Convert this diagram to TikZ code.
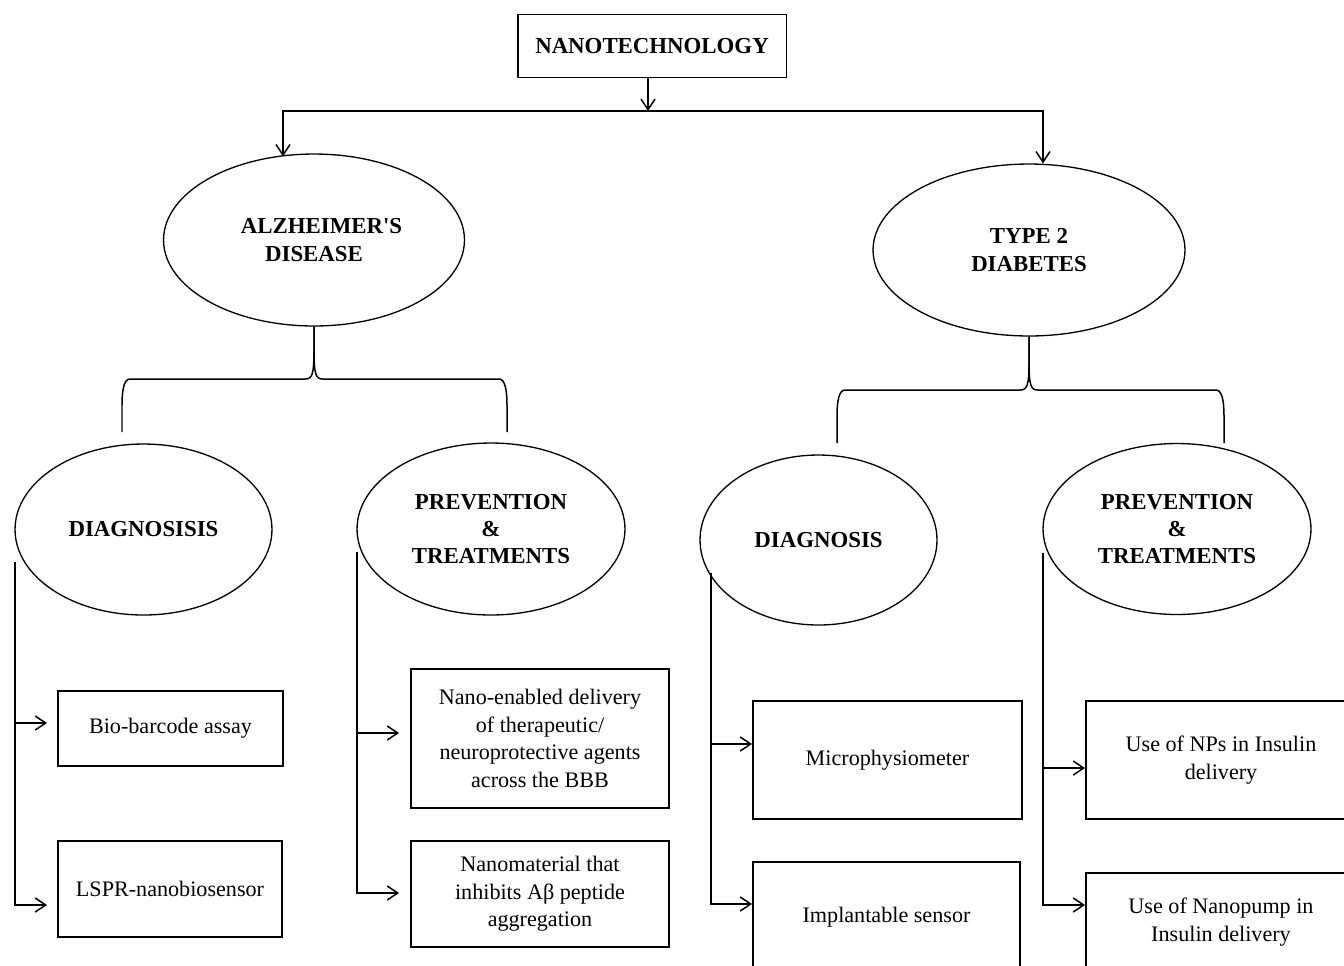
\documentclass[tikz,border=0pt]{standalone}
\usepackage{fontspec}
\setmainfont{Liberation Serif}
\usepackage{tikz}
\usetikzlibrary{
	arrows.meta,
	calc,
	shapes.geometric,
	positioning
}

\begin{document}
\begin{tikzpicture}[x=0.02cm, y=-0.02cm,
		oval/.style={draw, ellipse, line width=0.75pt, inner sep=0pt, align=center,
			font=\fontsize{13}{15.6}\selectfont\bfseries},
		box/.style={draw, rectangle, line width=1.1pt, inner sep=0pt, align=center,
			font=\fontsize{12.6}{15.7}\selectfont},
		arr/.style={line width=0.85pt, -{Straight Barb[length=6pt,width=8pt]}},
		brace/.style={line width=0.85pt}
	]
			\useasboundingbox (0,0) rectangle (1344,965);
			\clip (0,0) rectangle (1344,965);
			% top
			\node[box, minimum width=5.38cm, minimum height=1.26cm,
				font=\fontsize{13}{15.6}\selectfont\bfseries] (nano) at (652,46) {NANOTECHNOLOGY};
			\node[oval, minimum width=6.02cm, minimum height=3.44cm] (alz) at (314,240)
				{\hspace*{0.3cm}ALZHEIMER\textquotesingle S\\DISEASE};
			\node[oval, minimum width=6.24cm, minimum height=3.44cm] (dia) at (1029,250) {TYPE 2\\DIABETES};
			\coordinate (split) at (648,111);
			\draw[arr] (nano.south -| split) -- (split);
			\draw[arr] (split) -| ($(alz.north)+(-31,3)$);
			\draw[arr] (split) -| ($(dia.north)+(14,0)$);
			% second level
			\node[oval, minimum width=5.14cm, minimum height=3.42cm] (dgl) at (143.5,529.5) {DIAGNOSISIS};
			\node[oval, minimum width=5.36cm, minimum height=3.44cm] (ptl) at (491,529) {PREVENTION\\\&\\TREATMENTS};
			\node[oval, minimum width=4.74cm, minimum height=3.40cm] (dgr) at (818.5,540) {DIAGNOSIS};
			\node[oval, minimum width=5.36cm, minimum height=3.42cm] (ptr) at (1177,529) {PREVENTION\\\&\\TREATMENTS};
			\coordinate (alzl) at (122,432);
			\coordinate (alzr) at (507,432);
			\coordinate (dial) at (837,443);
			\coordinate (diar) at (1224,443);
			\draw[brace] (alz.south) -- (314,350) .. controls (314,375) and (312,379) .. (305,379)
				-- (130,379) .. controls (124,379) and (122,390) .. (122,405) -- (alzl);
			\draw[brace] (alz.south) -- (314,350) .. controls (314,375) and (316,379) .. (323,379)
				-- (499,379) .. controls (505,379) and (507,390) .. (507,405) -- (alzr);
			\draw[brace] (dia.south) -- (1029,362) .. controls (1029,386) and (1027,390) .. (1020,390)
				-- (845,390) .. controls (839,390) and (837,401) .. (837,416) -- (dial);
			\draw[brace] (dia.south) -- (1029,362) .. controls (1029,386) and (1031,390) .. (1038,390)
				-- (1216,390) .. controls (1222,390) and (1224,401) .. (1224,416) -- (diar);
			% leaves
			\node[box, minimum width=4.5cm, minimum height=1.5cm] (bio) at (170.5,728.5) {Bio-barcode assay};
			\node[box, minimum width=4.48cm, minimum height=1.92cm] (lspr) at (170,889) {LSPR-nanobiosensor};
			\node[box, minimum width=5.16cm, minimum height=2.78cm] (ned) at (540,738.5)
				{Nano-enabled delivery\\of therapeutic/\\neuroprotective agents\\across the BBB};
			\node[box, minimum width=5.16cm, minimum height=2.12cm] (nmat) at (540,894)
				{Nanomaterial that\\inhibits Aβ peptide\\aggregation};
			\node[box, minimum width=5.38cm, minimum height=2.36cm] (micro) at (887.5,760) {Microphysiometer};
			\node[box, minimum width=5.34cm, minimum height=2.2cm] (impl) at (886.5,917) {Implantable sensor};
			\node[box, minimum width=5.4cm, minimum height=2.36cm] (nps) at (1221,760) {Use of NPs in Insulin\\delivery};
			\node[box, minimum width=5.4cm, minimum height=1.96cm] (pump) at (1221,922) {Use of Nanopump in\\Insulin delivery};
			% branches
			\coordinate (dglfoot) at (15,562);
			\coordinate (ptlfoot) at (357,552);
			\coordinate (dgrfoot) at (711,573);
			\coordinate (ptrfoot) at (1043,553);
			\draw[arr, shorten >=0.2cm] (dglfoot) |- ($(bio.west)+(0,-5.5)$);
			\draw[arr, shorten >=0.2cm] (dglfoot) |- ($(lspr.west)+(0,16)$);
			\draw[arr, shorten >=0.22cm] (ptlfoot) |- ($(ned.west)+(0,-5.5)$);
			\draw[arr, shorten >=0.22cm] (ptlfoot) |- ($(nmat.west)+(0,-1)$);
			\draw[arr] (dgrfoot) |- ($(micro.west)+(0,-16)$);
			\draw[arr] (dgrfoot) |- ($(impl.west)+(0,-13)$);
			\draw[arr] (ptrfoot) |- ($(nps.west)+(0,8)$);
			\draw[arr] (ptrfoot) |- ($(pump.west)+(0,-17)$);
		\end{tikzpicture}
\end{document}
